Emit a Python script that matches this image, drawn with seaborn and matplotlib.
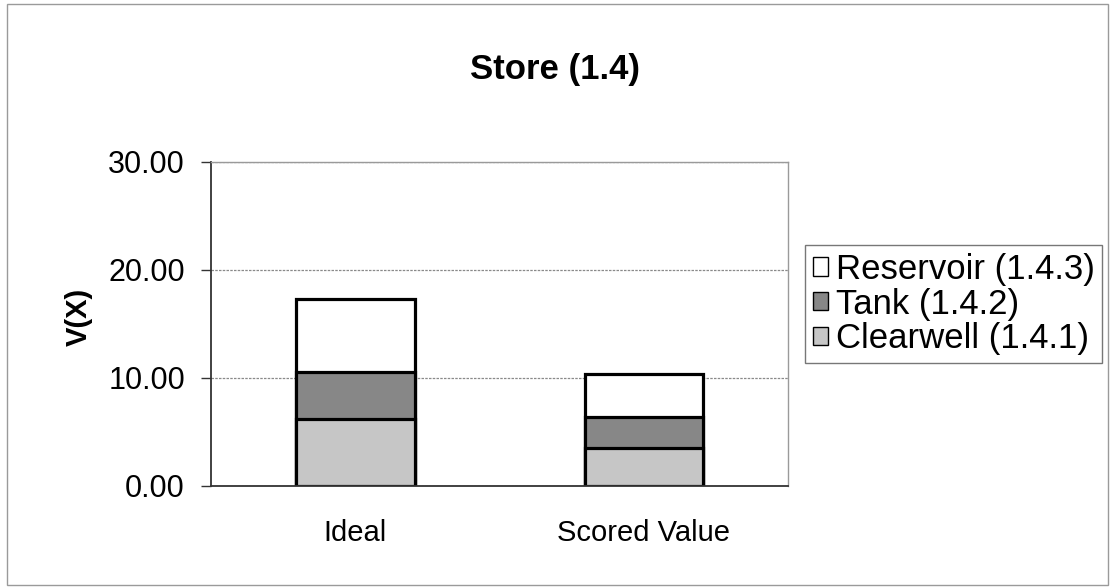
import matplotlib
matplotlib.use("Agg")
import matplotlib.pyplot as plt
from matplotlib.patches import Patch, Rectangle
import numpy as np
import pandas as pd
import seaborn as sns

categories = ["Ideal", "Scored Value"]
series_names = ["Clearwell (1.4.1)", "Tank (1.4.2)", "Reservoir (1.4.3)"]
clearwell = [6.2, 3.5]
tank = [4.3, 2.9]
reservoir = [6.8, 4.0]
y_ticks = [0, 10, 20, 30]

colors = {"Clearwell (1.4.1)": "#c6c6c6", "Tank (1.4.2)": "#878787", "Reservoir (1.4.3)": "#ffffff"}

sns.set_theme(style="white")
plt.rcParams["font.family"] = ["Liberation Sans", "DejaVu Sans"]
plt.rcParams["text.color"] = "black"
plt.rcParams["xtick.color"] = "black"
plt.rcParams["ytick.color"] = "black"
plt.rcParams["axes.labelcolor"] = "black"

fig = plt.figure(figsize=(11.12, 5.88), dpi=100)
ax = fig.add_axes([0.19, 0.1735, 0.5185, 0.5515])

layers = np.array([clearwell, tank, reservoir])
tops = np.cumsum(layers, axis=0)

# draw the stacked segments from the top down so each lower layer covers the one above
for name, top in reversed(list(zip(series_names, tops))):
    df = pd.DataFrame({"category": categories, "value": top})
    sns.barplot(data=df, x="category", y="value", ax=ax, color=colors[name],
                saturation=1, width=0.41, edgecolor="black", linewidth=2.3,
                errorbar=None)

ax.set_ylim(0, 30)
ax.set_xlim(-0.5, 1.5)
ax.set_yticks(y_ticks)
ax.set_yticklabels([f"{v:.2f}" for v in y_ticks], fontsize=22)
ax.yaxis.grid(True, color="#8a8a8a", linewidth=0.9, linestyle=(0, (2, 1)))
ax.set_axisbelow(True)

ax.set_xticks(range(len(categories)))
ax.set_xticklabels(categories, fontsize=21)
ax.tick_params(axis="x", which="major", length=0, pad=24)
ax.set_xticks([-0.5, 0.5, 1.5], minor=True)
ax.tick_params(axis="x", which="minor", length=7, width=1, color="#333333", direction="out")
ax.tick_params(axis="y", which="major", length=7, width=1, color="#333333", direction="out", left=True, pad=12)

ax.set_xlabel("")
ax.set_ylabel("V(X)", fontsize=21, fontweight="bold")
ax.yaxis.set_label_coords(-0.205, 0.52)

for side in ["left", "bottom"]:
    ax.spines[side].set_color("#333333")
    ax.spines[side].set_linewidth(1.3)
for side in ["top", "right"]:
    ax.spines[side].set_color("#9a9a9a")
    ax.spines[side].set_linewidth(1.0)

fig.text(0.499, 0.881, "Store (1.4)", ha="center", va="center",
         fontsize=25, fontweight="bold")

handles = [Patch(facecolor=colors[n], edgecolor="black", linewidth=1.0, label=n)
           for n in reversed(series_names)]
leg = fig.legend(handles=handles, loc="upper left", bbox_to_anchor=(0.724, 0.583),
                 fontsize=25, frameon=True, fancybox=False, handlelength=0.44,
                 handleheight=0.44, handletextpad=0.22, labelspacing=0.05,
                 borderpad=0.22, borderaxespad=0)
leg.get_frame().set_edgecolor("#555555")
leg.get_frame().set_linewidth(1.0)

fig.patches.append(Rectangle((0.006, 0.005), 0.99, 0.988, transform=fig.transFigure,
                             fill=False, edgecolor="#9a9a9a", linewidth=1.0))

fig.savefig("out.png", dpi=100)
